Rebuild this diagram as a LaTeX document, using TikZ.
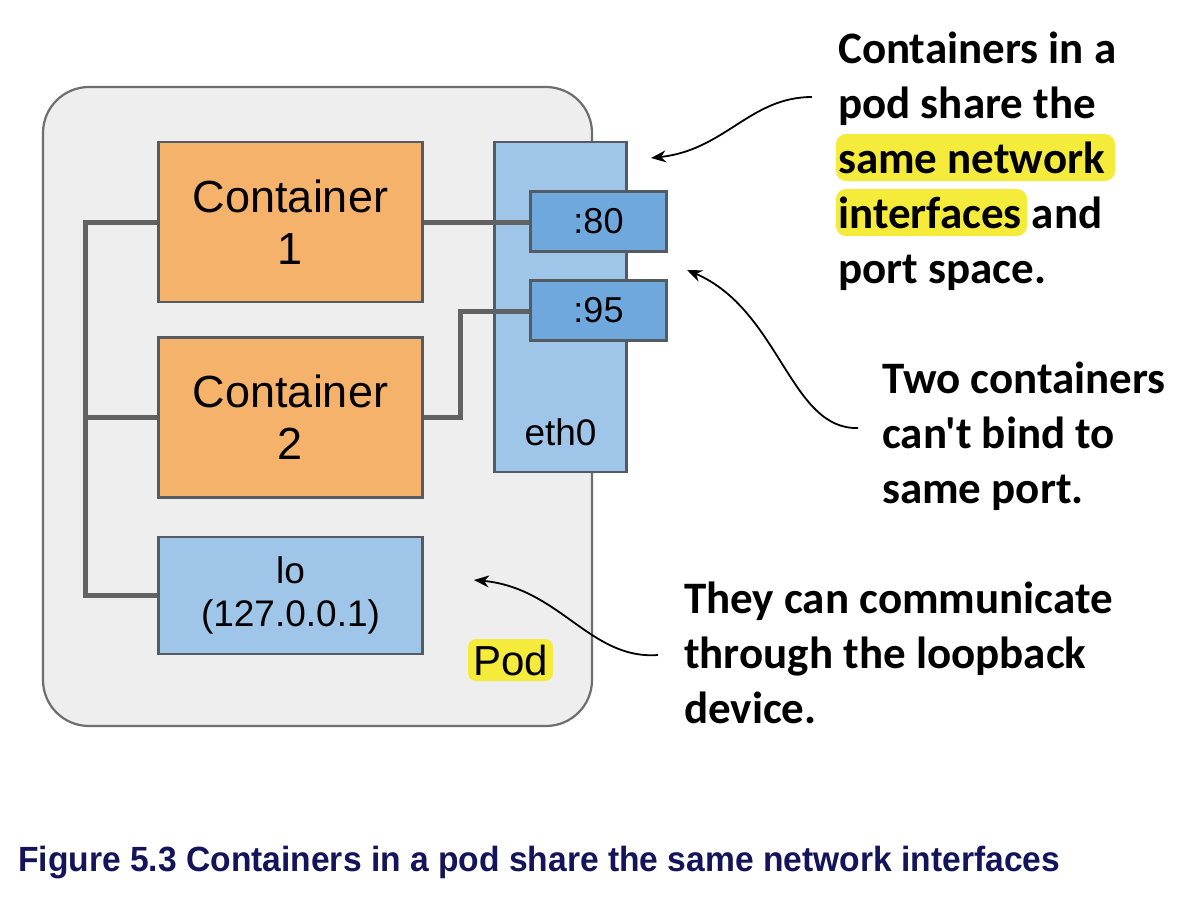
\documentclass[tikz,border=0pt]{standalone}
\usepackage{fontspec}
\setmainfont{Liberation Sans}
\newfontfamily\notefont{Carlito}
\newfontfamily\capfont{Liberation Sans}
\usetikzlibrary{arrows.meta}
\definecolor{podfill}{HTML}{EEEEEE}
\definecolor{podline}{HTML}{6E6E6E}
\definecolor{boxline}{HTML}{555B63}
\definecolor{orangefill}{HTML}{F4B26B}
\definecolor{bluefill}{HTML}{9FC5E8}
\definecolor{portfill}{HTML}{6FA8DC}
\definecolor{wire}{HTML}{626262}
\definecolor{hl}{HTML}{F5EB3A}
\definecolor{navy}{HTML}{14145A}
\tikzset{
  box/.style={draw=boxline, line width=2.5pt, inner sep=0pt, align=center, font=\fontsize{45}{52}\selectfont},
  cbox/.style={box, fill=orangefill, minimum width=264pt, minimum height=160pt},
  lbox/.style={box, fill=bluefill, minimum width=264pt, minimum height=117pt, font=\fontsize{37}{43}\selectfont},
  ebox/.style={box, fill=bluefill, minimum width=132pt, minimum height=330pt},
  pbox/.style={box, fill=portfill, minimum width=136pt, minimum height=60pt, font=\fontsize{36}{40}\selectfont},
  wireline/.style={draw=wire, line width=5pt},
  note/.style={anchor=base west, inner sep=0pt, font=\notefont\bfseries\fontsize{45}{55}\selectfont},
  arr/.style={line width=1.8pt, -{Stealth[length=15pt,width=12pt]}}
}
\begin{document}
\begin{tikzpicture}[x=1pt,y=-1pt]
\useasboundingbox (0,0) rectangle (1190,905);
\fill[white] (0,0) rectangle (1190,905);
% pod
\node[draw=podline, line width=2.2pt, fill=podfill, rounded corners=46pt, minimum width=549pt, minimum height=639pt, inner sep=0pt] (pod) at (317.5,406.5) {};
% containers and loopback
\node[cbox] (c1) at (290.5,222) {Container\\1};
\node[cbox] (c2) at (290.5,417.5) {Container\\2};
\node[lbox] (lo) at (290.5,595.5) {lo\\(127.0.0.1)};
% eth0
\node[ebox] (eth0) at (560.5,307) {};
\node[font=\fontsize{37}{44}\selectfont] (ethlabel) at (560.5,432) {eth0};
% wires
\coordinate (bus) at (85,222);
\coordinate (bend) at (460,417.5);
\draw[wireline] (c1.west) -- (bus) |- (lo.west);
\draw[wireline] (c2.west) -- (c2.west -| bus);
\draw[wireline] (c1.east) -- (c1.east -| eth0.east);
\draw[wireline] (c2.east) -- (bend) |- (531,311);
% ports
\node[pbox] (p80) at (598.5,221.5) {:80};
\node[pbox] (p95) at (598.5,310.5) {:95};
% pod label
\fill[hl, rounded corners=8pt] (468,639) rectangle (553,681);
\node[font=\fontsize{42}{46}\selectfont, inner sep=0pt] (podlabel) at (510.5,660) {Pod};
% highlights
\fill[hl, rounded corners=10pt] (836,134) rectangle (1115,181);
\fill[hl, rounded corners=10pt] (836,189) rectangle (1027,236);
% notes
\node[note] (n1a) at (838,63) {Containers in a};
\node[note] (n1b) at (838,118) {pod share the};
\node[note] (n1c) at (838,173) {same network};
\node[note] (n1d) at (838,228) {interfaces and};
\node[note] (n1e) at (838,283) {port space.};
\node[note] (n2a) at (882,393) {Two containers};
\node[note] (n2b) at (882,448) {can't bind to};
\node[note] (n2c) at (882,503) {same port.};
\node[note] (n3a) at (684,613) {They can communicate};
\node[note] (n3b) at (684,668) {through the loopback};
\node[note] (n3c) at (684,723) {device.};
% arrows
\coordinate (t1) at (651,158);
\coordinate (t2) at (687,270);
\coordinate (t3) at (474,580);
\draw[arr] ([xshift=-26pt,yshift=21pt]n1b.base west) .. controls (750,97) and (725,150) .. (t1);
\draw[arr] ([xshift=-24pt,yshift=20pt]n2b.base west) .. controls (790,430) and (780,310) .. (t2);
\draw[arr] ([xshift=-26pt,yshift=13pt]n3b.base west) .. controls (590,660) and (560,588) .. (t3);
% caption
\node[anchor=base west, inner sep=0pt, text=navy, font=\capfont\bfseries\fontsize{35}{40}\selectfont] (caption) at (18,871) {\scalebox{0.96}[1]{Figure 5.3 Containers in a pod share the same network interfaces}};
\end{tikzpicture}
\end{document}
